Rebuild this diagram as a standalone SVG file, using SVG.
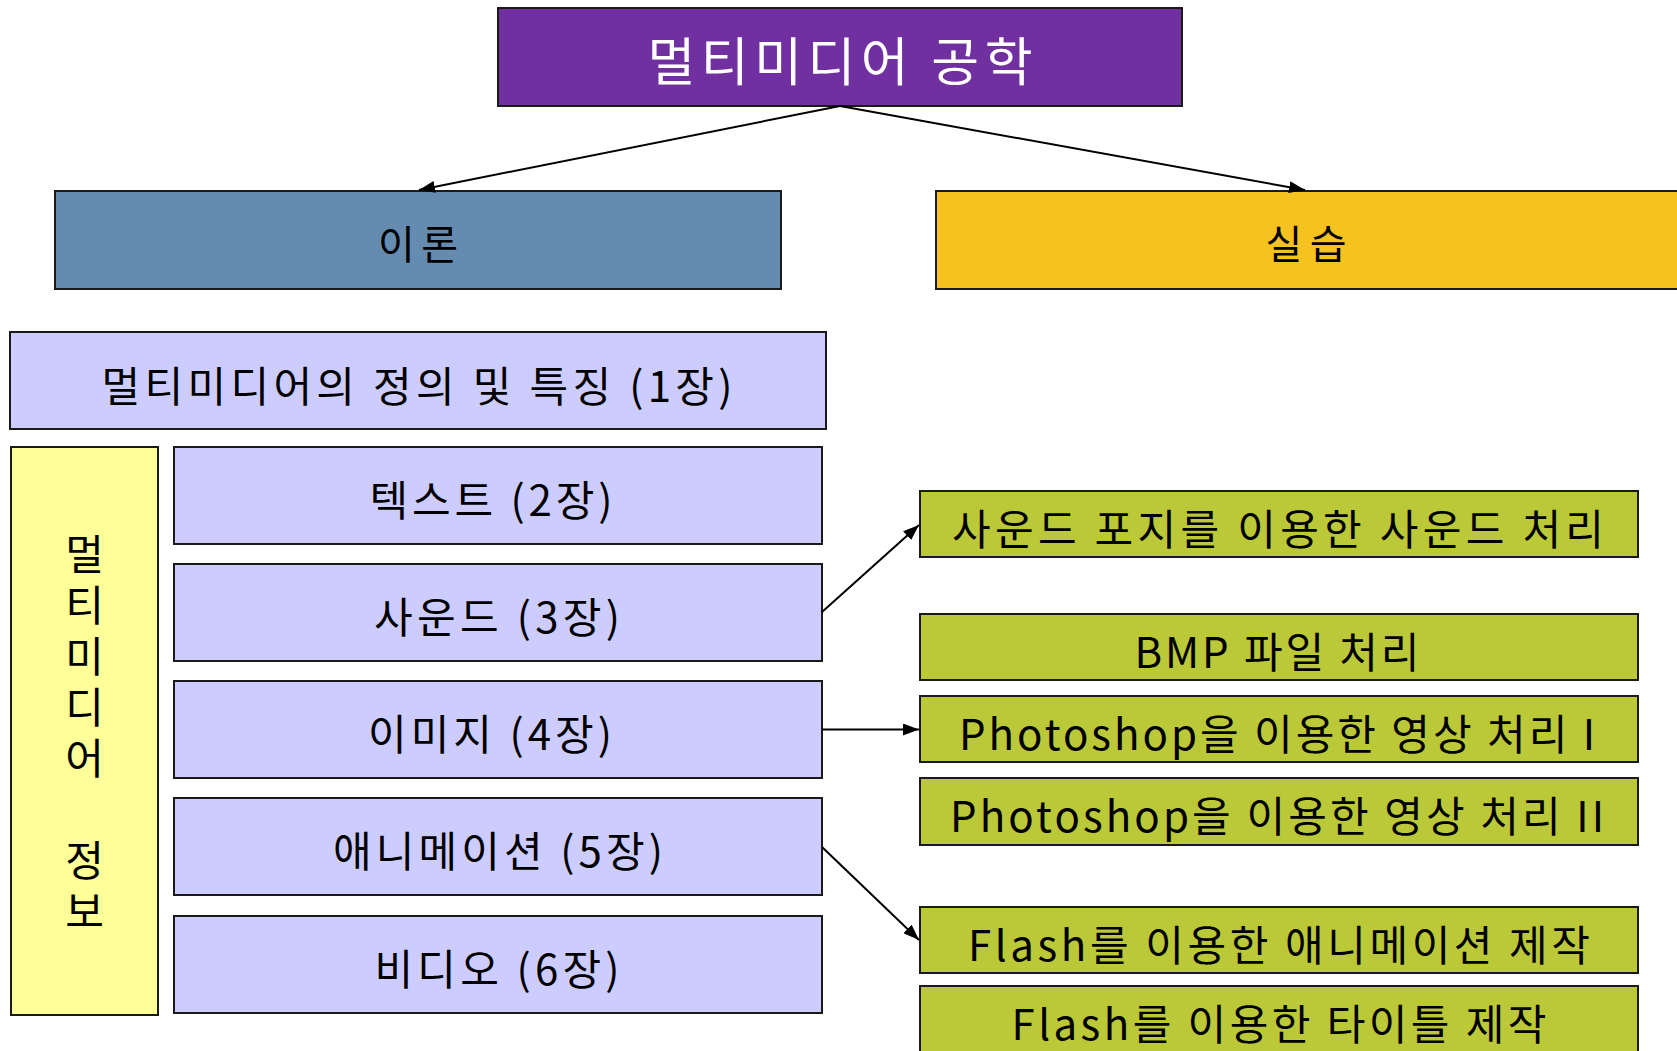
<svg xmlns="http://www.w3.org/2000/svg" width="1677" height="1051" viewBox="0 0 1677 1051">
<style>
  .box { stroke: #1a1a1a; stroke-width: 2; }
  .t { font-family: "Noto Sans CJK KR", "Noto Sans", sans-serif; fill: #000; text-anchor: middle; dominant-baseline: central; }
  .v { font-family: "Noto Sans CJK KR", "Noto Sans", sans-serif; fill: #000; writing-mode: vertical-rl; text-anchor: start; }
  .conn { stroke: #000; stroke-width: 2; fill: none; }
  .purple { fill: #7030A0; }
  .blue { fill: #658CB0; }
  .gold { fill: #F6C220; }
  .lav { fill: #CCCCFF; }
  .yel { fill: #FFFF99; }
  .grn { fill: #BBC837; }
</style>
<defs>
  <marker id="arr" markerUnits="userSpaceOnUse" markerWidth="16" markerHeight="12" refX="16" refY="6" orient="auto">
    <path d="M0,0 L16,6 L0,12 z" fill="#000"/>
  </marker>
</defs>
<rect width="1677" height="1051" fill="#fff"/>

<g id="title">
  <rect class="box purple" x="498" y="8" width="684" height="98"/>
  <text class="t" x="840" y="58" font-size="52" style="fill:#fff" textLength="385" lengthAdjust="spacing">멀티미디어 공학</text>
</g>
<g id="theory">
  <rect class="box blue" x="55" y="191" width="726" height="98"/>
  <text class="t" x="418" y="242" font-size="40" textLength="80" lengthAdjust="spacing">이론</text>
</g>
<g id="practice">
  <rect class="box gold" x="936" y="191" width="745" height="98"/>
  <text class="t" x="1306" y="242" font-size="40" textLength="81" lengthAdjust="spacing">실습</text>
</g>
<g id="ch1">
  <rect class="box lav" x="10" y="332" width="816" height="97"/>
  <text class="t" x="417" y="383" font-size="42" textLength="631" lengthAdjust="spacing">멀티미디어의 정의 및 특징 (1장)</text>
</g>
<g id="mminfo">
  <rect class="box yel" x="11" y="447" width="147" height="568"/>
  <text class="v" x="84.5" y="533" font-size="42" letter-spacing="9">멀티미디어</text>
  <text class="v" x="84.5" y="839" font-size="42" letter-spacing="9">정보</text>
</g>
<g id="ch2">
  <rect class="box lav" x="174" y="447" width="648" height="97"/>
  <text class="t" x="491" y="497" font-size="42" textLength="243" lengthAdjust="spacing">텍스트 (2장)</text>
</g>
<g id="ch3">
  <rect class="box lav" x="174" y="564" width="648" height="97"/>
  <text class="t" x="497" y="614" font-size="42" textLength="246" lengthAdjust="spacing">사운드 (3장)</text>
</g>
<g id="ch4">
  <rect class="box lav" x="174" y="681" width="648" height="97"/>
  <text class="t" x="490" y="731" font-size="42" textLength="244" lengthAdjust="spacing">이미지 (4장)</text>
</g>
<g id="ch5">
  <rect class="box lav" x="174" y="798" width="648" height="97"/>
  <text class="t" x="498" y="848" font-size="42" textLength="330" lengthAdjust="spacing">애니메이션 (5장)</text>
</g>
<g id="ch6">
  <rect class="box lav" x="174" y="916" width="648" height="97"/>
  <text class="t" x="497" y="966" font-size="42" textLength="245" lengthAdjust="spacing">비디오 (6장)</text>
</g>

<g id="p1">
  <rect class="box grn" x="920" y="491" width="718" height="66"/>
  <text class="t" x="1278" y="526" font-size="42" textLength="652" lengthAdjust="spacing">사운드 포지를 이용한 사운드 처리</text>
</g>
<g id="p2">
  <rect class="box grn" x="920" y="614" width="718" height="66"/>
  <text class="t" x="1277" y="649" font-size="42" textLength="285" lengthAdjust="spacing">BMP 파일 처리</text>
</g>
<g id="p3">
  <rect class="box grn" x="920" y="696" width="718" height="66"/>
  <text class="t" x="1277" y="731" font-size="42" textLength="636" lengthAdjust="spacing">Photoshop을 이용한 영상 처리 I</text>
</g>
<g id="p4">
  <rect class="box grn" x="920" y="778" width="718" height="67"/>
  <text class="t" x="1277" y="813" font-size="42" textLength="654" lengthAdjust="spacing">Photoshop을 이용한 영상 처리 II</text>
</g>
<g id="p5">
  <rect class="box grn" x="920" y="907" width="718" height="66"/>
  <text class="t" x="1279" y="942" font-size="42" textLength="622" lengthAdjust="spacing">Flash를 이용한 애니메이션 제작</text>
</g>
<g id="p6">
  <rect class="box grn" x="920" y="986" width="718" height="80"/>
  <text class="t" x="1279" y="1021" font-size="42" textLength="535" lengthAdjust="spacing">Flash를 이용한 타이틀 제작</text>
</g>

<g id="connectors">
  <line class="conn" x1="840" y1="106" x2="419" y2="190" marker-end="url(#arr)"/>
  <line class="conn" x1="840" y1="106" x2="1305" y2="190" marker-end="url(#arr)"/>
  <line class="conn" x1="822" y1="612" x2="919" y2="525" marker-end="url(#arr)"/>
  <line class="conn" x1="822" y1="729.5" x2="919" y2="729.5" marker-end="url(#arr)"/>
  <line class="conn" x1="822" y1="847" x2="919" y2="940" marker-end="url(#arr)"/>
</g>
</svg>
